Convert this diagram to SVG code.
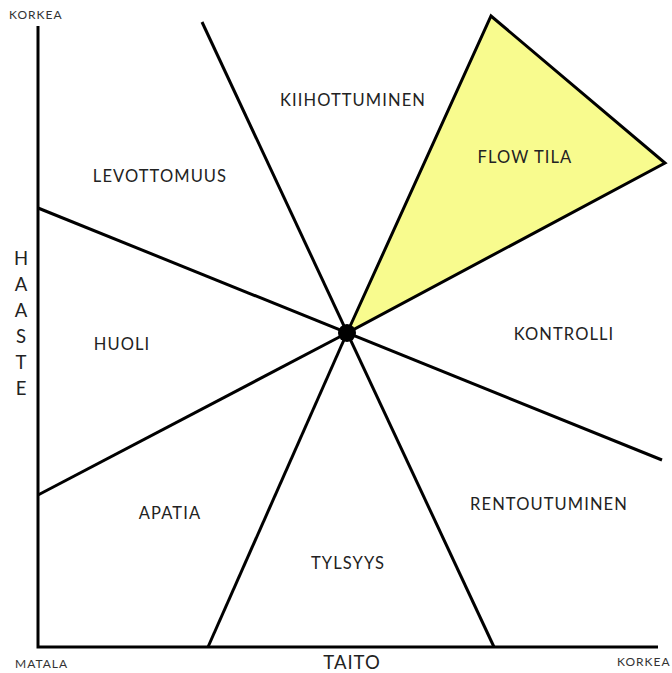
<svg xmlns="http://www.w3.org/2000/svg" width="672" height="673" viewBox="0 0 672 673">
<style>
.ln{stroke:#000;stroke-width:3;fill:none;stroke-linecap:butt}
.lbl{font-family:Lato,"Liberation Sans",sans-serif;font-size:16.5px;letter-spacing:1.1px;fill:#222;text-anchor:middle}
.sm{font-family:Lato,"Liberation Sans",sans-serif;font-size:12px;letter-spacing:1px;fill:#333}
.ax{font-family:Lato,"Liberation Sans",sans-serif;font-size:18.5px;fill:#222;text-anchor:middle}
</style>
<rect width="672" height="673" fill="#fff"/>
<g id="flow">
<polygon points="347,333 491,16 665,163" fill="#f8fb8e" stroke="#000" stroke-width="3" stroke-linejoin="miter"/>
</g>
<g id="connectors">
<polyline class="ln" points="38,26 38,647 658,647"/>
<line class="ln" x1="202" y1="22" x2="494" y2="647"/>
<line class="ln" x1="38" y1="208" x2="662" y2="460"/>
<line class="ln" x1="38" y1="495" x2="347" y2="333"/>
<line class="ln" x1="208" y1="647" x2="347" y2="333"/>
</g>
<g id="center"><circle cx="347" cy="333" r="9" fill="#000"/></g>
<g id="labels">
<text class="lbl" x="353" y="106">KIIHOTTUMINEN</text>
<text class="lbl" x="160" y="182">LEVOTTOMUUS</text>
<text class="lbl" x="525" y="163">FLOW TILA</text>
<text class="lbl" x="122" y="350">HUOLI</text>
<text class="lbl" x="564" y="340">KONTROLLI</text>
<text class="lbl" x="170" y="519">APATIA</text>
<text class="lbl" x="549" y="510">RENTOUTUMINEN</text>
<text class="lbl" x="348" y="569">TYLSYYS</text>
</g>
<g id="axes">
<text class="sm" x="9" y="19">KORKEA</text>
<text class="sm" x="15" y="668">MATALA</text>
<text class="sm" x="617" y="666">KORKEA</text>
<text class="ax" x="352" y="669" letter-spacing="1">TAITO</text>
<text class="ax" x="21" y="265">H</text>
<text class="ax" x="21" y="291">A</text>
<text class="ax" x="21" y="317">A</text>
<text class="ax" x="21" y="343">S</text>
<text class="ax" x="21" y="369">T</text>
<text class="ax" x="21" y="395">E</text>
</g>
</svg>
